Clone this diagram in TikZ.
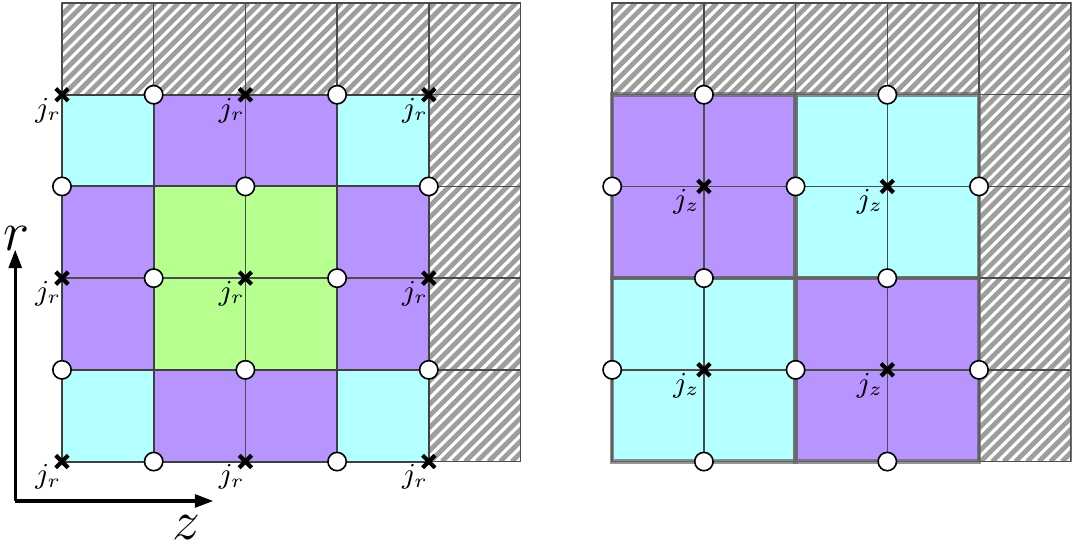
\documentclass[tikz,border=0pt]{standalone}
\usepackage{amsmath,amssymb}
\usepackage{xcolor}
\usepackage{tikz}
\usetikzlibrary{arrows.meta,positioning,shapes.misc}
\definecolor{cellcyan}{RGB}{180,255,255}
\definecolor{cellpurple}{RGB}{183,148,255}
\definecolor{cellgreen}{RGB}{183,255,143}
\definecolor{hatchgray}{RGB}{158,158,158}

% hatched L-shaped wall: top row and right column of a 5x5 grid starting at x=#1
\newcommand{\wallhatch}[1]{%
  \begin{scope}
    \clip (#1,4) -- (#1,5) -- (#1+5,5) -- (#1+5,0) -- (#1+4,0) -- (#1+4,4) -- cycle;
    \foreach \t in {-5,-4.873,...,5.2}
      \draw[hatchgray, line width=1.5pt] (#1+\t,0) -- (#1+\t+5,5);
  \end{scope}
  \draw[black!55, line width=0.5pt] (#1,4) -- (#1,5) -- (#1+5,5) -- (#1+5,0) -- (#1+4,0);
}

\begin{document}
\begin{tikzpicture}[
  gridline/.style={draw=black!70, line width=0.45pt},
  blockline/.style={draw=black!75, line width=0.6pt},
  heavyline/.style={draw=black!60, line width=1.4pt},
  circ/.style={circle, draw=black, fill=white, inner sep=0pt, minimum size=0.2cm, line width=0.5pt},
  crossmark/.style={cross out, draw=black, inner sep=0pt, minimum size=0.09cm, line width=1.3pt},
  jlabel/.style={inner sep=0pt, font=\small},
  axis/.style={draw, line width=1pt, -{Triangle[length=0.2cm,width=0.14cm]}}
]
\useasboundingbox (-0.676,-0.938) rectangle (11.025,5.033);

% left grid: coloured cells
\fill[cellcyan] (0,3) rectangle (1,4);
\fill[cellpurple] (1,3) rectangle (3,4);
\fill[cellcyan] (3,3) rectangle (4,4);
\fill[cellpurple] (0,1) rectangle (1,3);
\fill[cellgreen] (1,1) rectangle (3,3);
\fill[cellpurple] (3,1) rectangle (4,3);
\fill[cellcyan] (0,0) rectangle (1,1);
\fill[cellpurple] (1,0) rectangle (3,1);
\fill[cellcyan] (3,0) rectangle (4,1);
\wallhatch{0}
\draw[gridline] (0,0) grid (5,5);
\foreach \a/\b/\c/\d in {0/3/1/4,1/3/3/4,3/3/4/4,0/1/1/3,1/1/3/3,3/1/4/3,0/0/1/1,1/0/3/1,3/0/4/1}
  \draw[blockline] (\a,\b) rectangle (\c,\d);

% right grid: coloured cells
\fill[cellpurple] (6,2) rectangle (8,4);
\fill[cellcyan] (8,2) rectangle (10,4);
\fill[cellcyan] (6,0) rectangle (8,2);
\fill[cellpurple] (8,0) rectangle (10,2);
\wallhatch{6}
\draw[gridline] (6,0) grid (11,5);
\foreach \a/\b in {6/2,8/2,6/0,8/0}
  \draw[heavyline, opacity=0.7] (\a,\b) rectangle (\a+2,\b+2);

% nodes on the left grid
\foreach \x/\y in {1/4,3/4,0/3,2/3,4/3,1/2,3/2,0/1,2/1,4/1,1/0,3/0}
  \node[circ] (ez-\x-\y) at (\x,\y) {};
\foreach \x/\y in {0/4,2/4,4/4,0/2,2/2,4/2,0/0,2/0,4/0} {
  \node[crossmark] (jr-\x-\y) at (\x,\y) {};
  \node[jlabel] (jrlab-\x-\y) at (\x-0.15,\y-0.17) {$j_r$};
}

% nodes on the right grid
\foreach \x/\y in {7/4,9/4,6/3,8/3,10/3,7/2,9/2,6/1,8/1,10/1,7/0,9/0}
  \node[circ] (er-\x-\y) at (\x,\y) {};
\foreach \x/\y in {7/3,9/3,7/1,9/1} {
  \node[crossmark] (jz-\x-\y) at (\x,\y) {};
  \node[jlabel] (jzlab-\x-\y) at (\x-0.19,\y-0.17) {$j_z$};
}

% axes
\coordinate (origin) at (-0.51,-0.43);
\coordinate (rtip) at (-0.51,2.31);
\coordinate (ztip) at (1.65,-0.43);
\draw[axis] (origin) -- (rtip);
\draw[axis] (origin) -- (ztip);
\node[font=\LARGE, inner sep=0pt] (rlab) at (-0.5,2.43) {$r$};
\node[font=\LARGE, inner sep=0pt] (zlab) at (1.36,-0.72) {$z$};
\end{tikzpicture}
\end{document}
